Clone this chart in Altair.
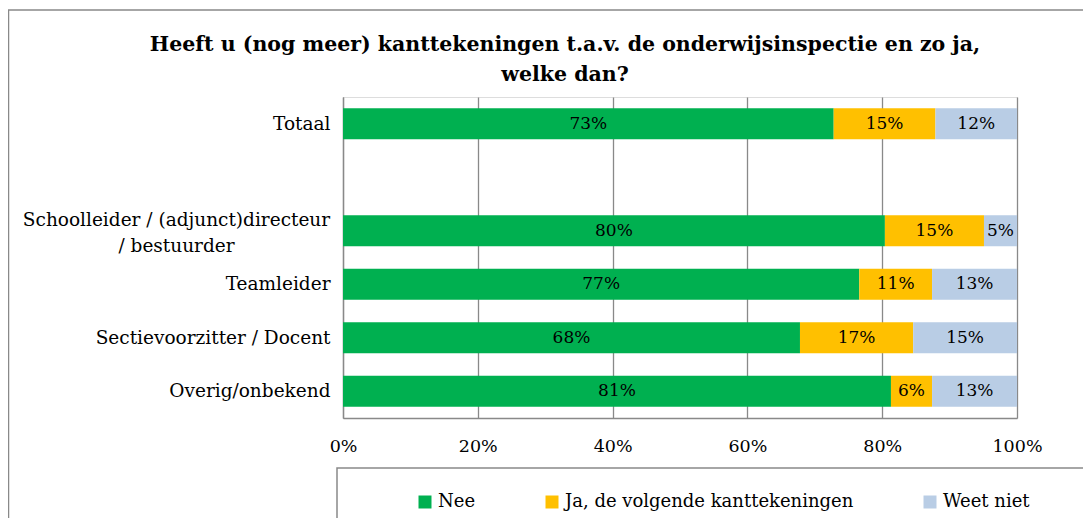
import altair as alt
import pandas as pd

categories = [
    "Totaal",
    " ",
    "Schoolleider / (adjunct)directeur / bestuurder",
    "Teamleider",
    "Sectievoorzitter / Docent",
    "Overig/onbekend",
]
bar_categories = [
    "Totaal",
    "Schoolleider / (adjunct)directeur / bestuurder",
    "Teamleider",
    "Sectievoorzitter / Docent",
    "Overig/onbekend",
]
series = ["Nee", "Ja, de volgende kanttekeningen", "Weet niet"]
nee = [72.8, 80.4, 76.6, 67.8, 81.3]
ja = [15.1, 14.7, 10.8, 16.8, 6.1]
weet_niet = [12.1, 4.9, 12.6, 15.4, 12.6]
colors = ["#00B050", "#FFC000", "#B9CDE5"]
x_ticks = [0, 20, 40, 60, 80, 100]

title_lines = [
    "Heeft u (nog meer) kanttekeningen t.a.v. de onderwijsinspectie  en zo ja,",
    "welke dan?",
]

rows = []
for i, cat in enumerate(bar_categories):
    start = 0.0
    for j, (name, vals) in enumerate(zip(series, [nee, ja, weet_niet])):
        v = vals[i]
        rows.append({
            "cat": cat,
            "serie": name,
            "order": j,
            "start": start,
            "end": start + v,
            "mid": start + v / 2,
            "label": f"{round(v)}%",
        })
        start += v
df = pd.DataFrame(rows)

FONT = "DejaVu Serif"
GRAY = "#898989"
LONG = "Schoolleider / (adjunct)directeur / bestuurder"
is_long = f"datum.value == '{LONG}'"

label_expr = (
    f"{is_long} ? ['Schoolleider / (adjunct)directeur', '/ bestuurder'] : datum.value"
)

y_enc = alt.Y(
    "cat:N",
    scale=alt.Scale(domain=categories, paddingInner=0.42, paddingOuter=0.21),
    axis=alt.Axis(
        title=None,
        ticks=False,
        labelFont=FONT,
        labelFontSize=18.5,
        labelColor="black",
        labelPadding={"condition": {"test": is_long, "value": 167}, "value": 13},
        labelAlign={"condition": {"test": is_long, "value": "center"}, "value": "right"},
        labelOffset={"condition": {"test": is_long, "value": -11}, "value": 0},
        labelLineHeight=26,
        labelExpr=label_expr,
        domainColor=GRAY,
        domainWidth=1.3,
        grid=False,
        labelLimit=400,
    ),
)

x_scale = alt.Scale(domain=[0, 100], nice=False)

bars = alt.Chart(df).mark_bar().encode(
    y=y_enc,
    x=alt.X(
        "start:Q",
        scale=x_scale,
        axis=alt.Axis(
            title=None,
            values=x_ticks,
            ticks=False,
            labelExpr="datum.value + '%'",
            labelFont=FONT,
            labelFontSize=17.5,
            labelColor="black",
            labelPadding=19,
            labelFlush=False,
            grid=True,
            gridColor=GRAY,
            gridWidth=1.3,
            domainColor=GRAY,
            domainWidth=1.3,
        ),
    ),
    x2="end:Q",
    color=alt.Color(
        "serie:N",
        scale=alt.Scale(domain=series, range=colors),
        legend=alt.Legend(
            title=None,
            orient="none",
            direction="horizontal",
            legendX=73,
            legendY=396,
            symbolType="square",
            symbolSize=169,
            symbolStrokeWidth=0,
            labelFont=FONT,
            labelFontSize=18,
            labelColor="black",
            labelOffset=4,
            columnPadding=67,
            padding=0,
            labelLimit=400,
        ),
    ),
    order=alt.Order("order:Q"),
)

texts = alt.Chart(df).mark_text(font=FONT, fontSize=17, color="black").encode(
    y=alt.Y("cat:N", scale=alt.Scale(domain=categories)),
    x=alt.X("mid:Q", scale=x_scale),
    text="label:N",
)

frame_df = pd.DataFrame({"a": [0]})
outer = alt.Chart(frame_df).mark_rect(fillOpacity=0, stroke=GRAY, strokeWidth=1.5).encode(
    x=alt.value(-334.5), x2=alt.value(900), y=alt.value(-87), y2=alt.value(600)
)
legend_box = alt.Chart(frame_df).mark_rect(fillOpacity=0, stroke=GRAY, strokeWidth=1.5).encode(
    x=alt.value(-6), x2=alt.value(900), y=alt.value(371), y2=alt.value(600)
)

title1 = alt.Chart(frame_df).mark_text(
    font=FONT, fontSize=20.5, fontWeight="bold", color="black", align="center", baseline="middle"
).encode(x=alt.value(222), y=alt.value(-52), text=alt.value(title_lines[0]))
title2 = alt.Chart(frame_df).mark_text(
    font=FONT, fontSize=20.5, fontWeight="bold", color="black", align="center", baseline="middle"
).encode(x=alt.value(222), y=alt.value(-22), text=alt.value(title_lines[1]))

chart = alt.layer(outer, legend_box, bars, texts, title1, title2).properties(
    width=674,
    height=321,
    autosize=alt.AutoSizeParams(type="none"),
    padding={"left": 335, "top": 89, "right": 66, "bottom": 100},
).configure_view(stroke=GRAY, strokeWidth=1.3).configure(background="white")

chart.save("out.html", embed_options={"renderer": "svg", "actions": False})
